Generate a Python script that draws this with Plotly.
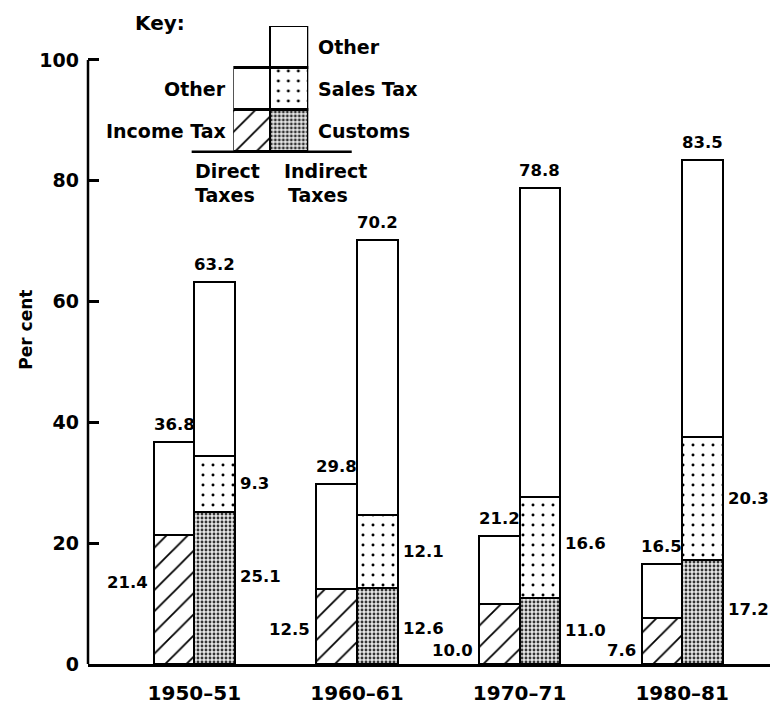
import plotly.graph_objects as go

# ---------------- data (per cent of total tax revenue) ----------------
periods = ["1950–51", "1960–61", "1970–71", "1980–81"]
direct_total = [36.8, 29.8, 21.2, 16.5]
income_tax = [21.4, 12.5, 10.0, 7.6]
indirect_total = [63.2, 70.2, 78.8, 83.5]
customs = [25.1, 12.6, 11.0, 17.2]
sales_tax = [9.3, 12.1, 16.6, 20.3]
y_ticks = [0, 20, 40, 60, 80, 100]

direct_other = [round(t - i, 1) for t, i in zip(direct_total, income_tax)]
indirect_other = [round(t - c - s, 1) for t, c, s in zip(indirect_total, customs, sales_tax)]

# ---------------- style ----------------
FONT = "DejaVu Sans"
INK = "black"
EDGE = 2.5
BAR_W = 0.25
idx = list(range(len(periods)))
x_direct = [i - BAR_W / 2 for i in idx]
x_indirect = [i + BAR_W / 2 for i in idx]

# relative vertical placement of side labels inside each segment
income_lab_frac = [0.63, 0.46, 0.23, 0.29]
customs_lab_frac = [0.58, 0.47, 0.51, 0.52]
sales_lab_frac = [0.52, 0.50, 0.54, 0.50]

hatch = dict(shape="/", fgcolor=INK, bgcolor="white", size=15, solidity=0.12, fgopacity=1)
fine = dict(shape=".", fgcolor="#333333", bgcolor="#e6e6e6", size=4, solidity=0.4, fgopacity=1)
sparse = dict(shape=".", fgcolor=INK, bgcolor="white", size=10, solidity=0.07, fgopacity=1)
plain = dict(shape="", bgcolor="white")


def bar(x, y, pattern, xa="x", ya="y", width=BAR_W):
    return go.Bar(
        x=x, y=y, width=width, xaxis=xa, yaxis=ya,
        marker=dict(color="white", line=dict(color=INK, width=EDGE), pattern=pattern),
        showlegend=False, hoverinfo="skip",
    )


fig = go.Figure()
fig.add_trace(bar(x_direct, income_tax, hatch))
fig.add_trace(bar(x_direct, direct_other, plain))
fig.add_trace(bar(x_indirect, customs, fine))
fig.add_trace(bar(x_indirect, sales_tax, sparse))
fig.add_trace(bar(x_indirect, indirect_other, plain))

# ---------------- key (own small axes) ----------------
key_unit = [1]
fig.add_trace(bar([0], key_unit, hatch, "x2", "y2", 1))
fig.add_trace(bar([0], key_unit, plain, "x2", "y2", 1))
fig.add_trace(bar([1], key_unit, fine, "x2", "y2", 1))
fig.add_trace(bar([1], key_unit, sparse, "x2", "y2", 1))
fig.add_trace(bar([1], key_unit, plain, "x2", "y2", 1))

ann = []
VAL = dict(family=FONT, size=16.5, color=INK, weight="bold")
KEYF = dict(family=FONT, size=19, color=INK, weight="bold")

for i in idx:
    # totals on top
    ann.append(dict(x=x_direct[i], y=direct_total[i], text=f"{direct_total[i]:.1f}",
                    xanchor="center", yanchor="bottom", yshift=6, showarrow=False, font=VAL))
    ann.append(dict(x=x_indirect[i], y=indirect_total[i], text=f"{indirect_total[i]:.1f}",
                    xanchor="center", yanchor="bottom", yshift=6, showarrow=False, font=VAL))
    # income tax, left of bar
    ann.append(dict(x=x_direct[i] - BAR_W / 2, y=income_tax[i] * income_lab_frac[i],
                    text=f"{income_tax[i]:.1f}", xanchor="right", yanchor="middle",
                    xshift=-4, showarrow=False, font=VAL))
    # customs and sales tax, right of bar
    ann.append(dict(x=x_indirect[i] + BAR_W / 2, y=customs[i] * customs_lab_frac[i],
                    text=f"{customs[i]:.1f}", xanchor="left", yanchor="middle",
                    xshift=3, showarrow=False, font=VAL))
    ann.append(dict(x=x_indirect[i] + BAR_W / 2, y=customs[i] + sales_tax[i] * sales_lab_frac[i],
                    text=f"{sales_tax[i]:.1f}", xanchor="left", yanchor="middle",
                    xshift=3, showarrow=False, font=VAL))

# key labels
ann += [
    dict(xref="x2", yref="y2", x=-0.5, y=1.5, text="Other", xanchor="right", yanchor="middle",
         xshift=-5, showarrow=False, font=KEYF),
    dict(xref="x2", yref="y2", x=-0.5, y=0.5, text="Income Tax", xanchor="right", yanchor="middle",
         xshift=-5, showarrow=False, font=KEYF),
    dict(xref="x2", yref="y2", x=1.5, y=2.5, text="Other", xanchor="left", yanchor="middle",
         xshift=8, showarrow=False, font=KEYF),
    dict(xref="x2", yref="y2", x=1.5, y=1.5, text="Sales Tax", xanchor="left", yanchor="middle",
         xshift=8, showarrow=False, font=KEYF),
    dict(xref="x2", yref="y2", x=1.5, y=0.5, text="Customs", xanchor="left", yanchor="middle",
         xshift=8, showarrow=False, font=KEYF),
    dict(xref="paper", yref="paper", x=0.066, y=0.995, text="Key:", xanchor="left", yanchor="middle",
         showarrow=False, font=dict(family=FONT, size=20, color=INK, weight="bold")),
    dict(xref="paper", yref="paper", x=0.154, y=0.766, text="Direct", xanchor="left", yanchor="middle",
         showarrow=False, font=KEYF),
    dict(xref="paper", yref="paper", x=0.154, y=0.728, text="Taxes", xanchor="left", yanchor="middle",
         showarrow=False, font=KEYF),
    dict(xref="paper", yref="paper", x=0.284, y=0.766, text="Indirect", xanchor="left", yanchor="middle",
         showarrow=False, font=KEYF),
    dict(xref="paper", yref="paper", x=0.290, y=0.728, text="Taxes", xanchor="left", yanchor="middle",
         showarrow=False, font=KEYF),
    dict(xref="paper", yref="paper", x=-0.091, y=0.519, text="Per cent", textangle=-90,
         xanchor="center", yanchor="middle", showarrow=False,
         font=dict(family=FONT, size=17, color=INK, weight="bold")),
]

Y_MAX = 106.62
shapes = [
    # y axis line up to 100 only
    dict(type="line", xref="paper", yref="paper", x0=0, x1=0, y0=0, y1=100 / Y_MAX,
         line=dict(color=INK, width=EDGE)),
    # key baseline
    dict(type="line", xref="paper", yref="paper", x0=0.152, x1=0.3867, y0=0.7955, y1=0.7955,
         line=dict(color=INK, width=EDGE)),
]

fig.update_layout(
    width=770, height=706,
    margin=dict(l=88, r=0, t=20, b=42),
    paper_bgcolor="white", plot_bgcolor="white",
    barmode="stack", bargap=0,
    showlegend=False,
    font=dict(family=FONT, color=INK),
    annotations=ann,
    shapes=shapes,
    xaxis=dict(
        range=[-0.654, 3.54], tickmode="array", tickvals=idx, ticktext=periods,
        showline=True, linecolor=INK, linewidth=EDGE, ticks="", showgrid=False,
        zeroline=False, tickfont=dict(family=FONT, size=20, color=INK, weight="bold"),
        ticklabelstandoff=9, automargin=False,
    ),
    yaxis=dict(
        range=[0, Y_MAX], tickmode="array", tickvals=y_ticks,
        showline=False, ticks="inside", ticklen=11, tickwidth=EDGE, tickcolor=INK,
        showgrid=False, zeroline=False, tickfont=dict(family=FONT, size=19, color=INK, weight="bold"),
        ticklabelstandoff=8, automargin=False,
    ),
    xaxis2=dict(domain=[0.2131, 0.3230], anchor="y2", range=[-0.5, 1.5], visible=False),
    yaxis2=dict(domain=[0.7955, 0.9907], anchor="x2", range=[0, 3], visible=False),
)

# remove the page's default body margin so the 770x706 figure fills the window exactly
fig.write_html("out.html", config={"displayModeBar": False},
               post_script="document.body.style.margin='0';")
